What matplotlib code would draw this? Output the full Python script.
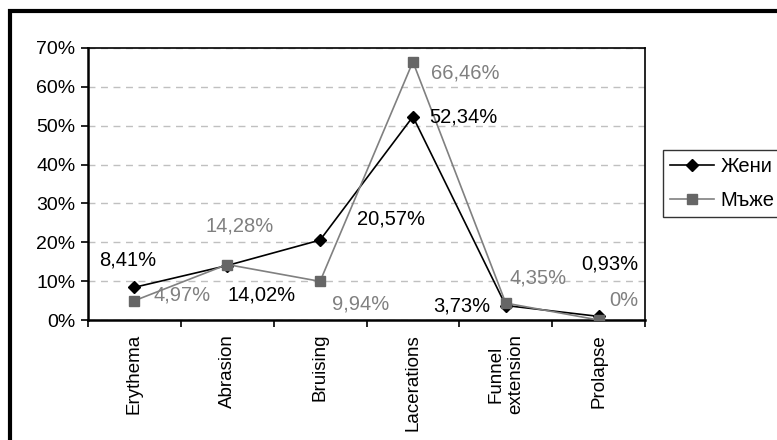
import numpy as np
import matplotlib.pyplot as plt
from matplotlib.patches import Rectangle

plt.rcParams['font.family'] = ['Liberation Sans', 'DejaVu Sans']

categories = ['Erythema', 'Abrasion', 'Bruising', 'Lacerations', 'Funnel\nextension', 'Prolapse']
women = [8.41, 14.02, 20.57, 52.34, 3.73, 0.93]
men = [4.97, 14.28, 9.94, 66.46, 4.35, 0.0]

# label offsets in points (dx, dy) from each marker
women_off = [(-5, 20), (25, -21), (51, 15), (36, 0), (-32, 0), (8, 38)]
men_off = [(34, 4), (9, 28), (29, -16), (38, -8), (23, 18), (18, 14)]

fig = plt.figure(figsize=(7.77, 4.40), dpi=100)
ax = fig.add_axes([88/777, 1-320/440, (645-88)/777, (320-48)/440])

x = np.arange(len(categories))
gray = '#808080'
ax.plot(x, women, color='black', lw=1.2, marker='D', ms=6.5, mfc='black', mec='black', label='Жени', zorder=3)
ax.plot(x, men, color=gray, lw=1.2, marker='s', ms=7, mfc='#666666', mec='#666666', label='Мъже', zorder=4)

def fmt(v):
    s = ('%.2f' % v).replace('.', ',') if v != 0 else '0'
    return s + '%'

for i in range(len(x)):
    ax.annotate(fmt(women[i]), (x[i], women[i]), xytext=women_off[i], textcoords='offset points',
                ha='center', va='center', fontsize=14.5, color='black', zorder=5)
    ax.annotate(fmt(men[i]), (x[i], men[i]), xytext=men_off[i], textcoords='offset points',
                ha='center', va='center', fontsize=14.5, color=gray, zorder=5)

ax.set_xlim(-0.5, len(categories) - 0.5)
ax.set_ylim(0, 70)
ax.set_yticks(np.arange(0, 71, 10))
ax.set_yticklabels(['%d%%' % v for v in range(0, 71, 10)], fontsize=14)
ax.yaxis.grid(True, linestyle=(0, (5, 4)), color='#c0c0c0', lw=1)
ax.set_axisbelow(True)

ax.set_xticks(x)
ax.set_xticklabels(categories, rotation=90, fontsize=13.5, va='top', ha='center')
ax.tick_params(axis='x', length=0, pad=10)
ax.set_xticks(np.arange(-0.5, len(categories)), minor=True)
ax.tick_params(axis='x', which='minor', length=5, width=1.2, direction='out')
ax.tick_params(axis='y', length=5, width=1.2, direction='out', pad=4)

for s in ax.spines.values():
    s.set_color('black')
    s.set_linewidth(1.2)
ax.spines['left'].set_linewidth(1.8)
ax.spines['bottom'].set_linewidth(1.8)

leg = fig.legend(loc='upper left', bbox_to_anchor=(663/777, 1-150/440), fontsize=14.5,
                 frameon=True, fancybox=False, edgecolor='black', handlelength=2.2,
                 handletextpad=0.3, labelspacing=0.75, borderpad=0.35, borderaxespad=0)
leg.get_frame().set_linewidth(1.0)

# outer chart border
fig.patches.append(Rectangle((10/777, -0.1), 1.1, 1-11/440+0.1, transform=fig.transFigure,
                             fill=False, edgecolor='black', lw=3, zorder=10))

fig.savefig('out.png', dpi=100)
